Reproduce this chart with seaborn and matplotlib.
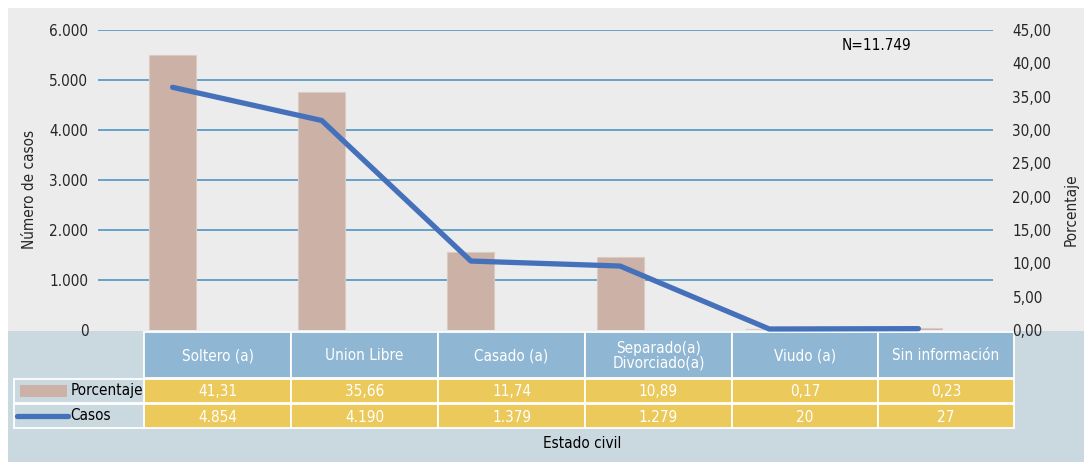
import numpy as np
import pandas as pd
import matplotlib.pyplot as plt
import matplotlib.ticker as mticker
from matplotlib.patches import Rectangle
from matplotlib.lines import Line2D
import seaborn as sns

# ── Config ────────────────────────────────────────────────────────
sns.set_theme(style="white")
plt.rcParams["font.family"] = ["DejaVu Sans"]
plt.rcParams["font.stretch"] = "condensed"

# ── Datos ─────────────────────────────────────────────────────────
CATEGORIAS = ["Soltero (a)", "Union Libre", "Casado (a)",
              "Separado(a)\nDivorciado(a)", "Viudo (a)", "Sin información"]
PORCENTAJE = [41.31, 35.66, 11.74, 10.89, 0.17, 0.23]
CASOS      = [4854, 4190, 1379, 1279, 20, 27]
N_TOTAL    = 11749
CASOS_TICKS = [0, 1000, 2000, 3000, 4000, 5000, 6000]
PCT_TICKS   = [0, 5, 10, 15, 20, 25, 30, 35, 40, 45]

# colores
C_PANEL  = "#ececec"
C_BOTTOM = "#cad8e0"
C_HEAD   = "#8fb6d3"
C_YELLOW = "#ebc95b"
C_BAR    = "#cbb1a6"
C_LINE   = "#4571bb"
C_GRID   = "#5b9bc8"
FS = 11

W, H = 1084, 462

def fmt_pct(v):
    return f"{v:.2f}".replace(".", ",")

def fmt_int(v):
    return f"{int(v):,}".replace(",", ".")

def px(x0, y0, x1, y1):
    return [x0 / W, 1 - y1 / H, (x1 - x0) / W, (y1 - y0) / H]

df = pd.DataFrame({"estado": CATEGORIAS, "porcentaje": PORCENTAJE, "casos": CASOS})

fig = plt.figure(figsize=(W / 100, H / 100), dpi=100)
fig.patch.set_facecolor("white")

# ── Fondo y tabla (coordenadas en pixeles) ────────────────────────
tab = fig.add_axes([0, 0, 1, 1])
tab.set_xlim(0, W); tab.set_ylim(H, 0); tab.axis("off")
tab.add_patch(Rectangle((8, 8), W - 8, 323, color=C_PANEL, lw=0))
tab.add_patch(Rectangle((8, 331), W - 8, H - 331, color=C_BOTTOM, lw=0))

edges = [144, 291, 438, 585, 732, 878, 1014]
rows = [(332, 378, C_HEAD), (379, 403, C_YELLOW), (404, 428, C_YELLOW)]
row_text = [CATEGORIAS, [fmt_pct(v) for v in PORCENTAJE], [fmt_int(v) for v in CASOS]]
for (y0, y1, col), textos in zip(rows, row_text):
    for i, t in enumerate(textos):
        x0, x1 = edges[i], edges[i + 1]
        tab.add_patch(Rectangle((x0, y0), x1 - x0, y1 - y0, facecolor=col,
                                edgecolor="white", lw=1.3))
        tab.text((x0 + x1) / 2, (y0 + y1) / 2 + 1, t, ha="center", va="center",
                 color="white", fontsize=FS, linespacing=1.0)

# leyenda dentro de la tabla
for y0, y1, _ in rows[1:]:
    tab.add_patch(Rectangle((14, y0), 144 - 14, y1 - y0, facecolor=C_BOTTOM,
                            edgecolor="white", lw=1.3))
tab.add_patch(Rectangle((20, 385), 47, 12, color=C_BAR, lw=0))
tab.add_line(Line2D([17, 68], [416, 416], color=C_LINE, lw=3.8))
tab.text(71, 391, "Porcentaje", ha="left", va="center", fontsize=FS, color="black")
tab.text(70, 416, "Casos", ha="left", va="center", fontsize=FS, color="black")

tab.text(582, 443, "Estado civil", ha="center", va="center", fontsize=FS, color="black")
tab.text(842, 46, f"N={fmt_int(N_TOTAL)}", ha="left", va="center", fontsize=FS, color="black")

# ── Barras (porcentaje, eje derecho) ──────────────────────────────
ax = fig.add_axes(px(98, 30, 993, 330))
ax.set_zorder(1)
ax.patch.set_visible(False)
sns.barplot(data=df, x="estado", y="porcentaje", ax=ax, color=C_BAR,
            saturation=1, width=0.315, edgecolor="#dccbc3", linewidth=0.8)

# ── Linea (casos, eje izquierdo) ──────────────────────────────────
ax2 = ax.twinx()
ax2.set_zorder(2)
ax2.patch.set_visible(False)
sns.lineplot(data=df, x="estado", y="casos", ax=ax2, sort=False,
             color=C_LINE, lw=3.8)
for line in ax2.lines:
    line.set_clip_on(False)

# ejes: porcentaje a la derecha, casos a la izquierda
ax.set_ylim(0, 45)
ax.set_xlim(-0.5, 5.5)
ax.yaxis.tick_right()
ax.yaxis.set_label_position("right")
ax.set_yticks(PCT_TICKS)
ax.yaxis.set_major_formatter(mticker.FuncFormatter(lambda v, p: fmt_pct(v)))
# lineas guia en los valores de casos
ax.yaxis.remove_overlapping_locs = False
ax.set_yticks([c / CASOS_TICKS[-1] * PCT_TICKS[-1] for c in CASOS_TICKS[1:]], minor=True)
ax.grid(which="minor", axis="y", color=C_GRID, lw=1.3)
ax.grid(which="major", visible=False)
ax.set_axisbelow(True)
ax.tick_params(axis="y", which="both", length=0, pad=14, labelsize=FS)
ax.tick_params(axis="x", bottom=False, labelbottom=False)
ax.set_xlabel("")
ax.set_ylabel("Porcentaje", fontsize=FS)
ax.yaxis.set_label_coords(1.079, 0.4)

ax2.set_ylim(0, 6000)
ax2.set_xlim(-0.5, 5.5)
ax2.yaxis.tick_left()
ax2.yaxis.set_label_position("left")
ax2.set_yticks(CASOS_TICKS)
ax2.yaxis.set_major_formatter(mticker.FuncFormatter(lambda v, p: fmt_int(v)))
ax2.tick_params(axis="y", length=0, pad=7, labelsize=FS)
ax2.tick_params(axis="x", bottom=False, labelbottom=False)
ax2.set_xlabel("")
ax2.set_ylabel("Número de casos", fontsize=FS)
ax2.yaxis.set_label_coords(-0.068, 0.467)

for a in (ax, ax2):
    for s in a.spines.values():
        s.set_visible(False)

fig.savefig("out.png", dpi=100)
